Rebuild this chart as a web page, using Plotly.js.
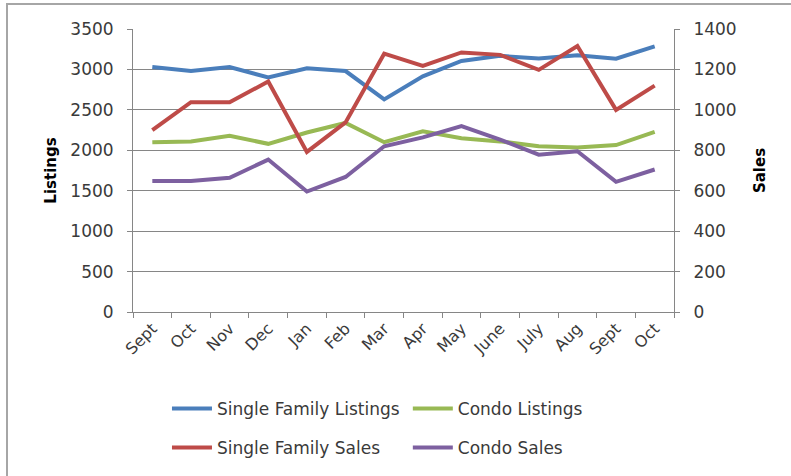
<!DOCTYPE html>
<html>
<head>
<meta charset="utf-8">
<script src="https://cdn.plot.ly/plotly-3.0.1.min.js"></script>
<style>
  html, body { margin: 0; padding: 0; background: #fff; }
  #wrap { position: relative; width: 791px; height: 476px; overflow: hidden; }
  #frame { position: absolute; left: 6px; top: 3px; width: 800px; height: 490px;
           border-top: 2px solid #a6a6a6; border-left: 2px solid #a6a6a6; pointer-events: none; }
  #chart { position: absolute; left: 0; top: 0; width: 791px; height: 476px; }
</style>
</head>
<body>
<div id="wrap">
  <div id="chart"></div>
  <div id="frame"></div>
</div>
<script>
const months = ['Sept','Oct','Nov','Dec','Jan','Feb','Mar','Apr','May','June','July','Aug','Sept','Oct'];
const singleFamilyListings = [3030, 2980, 3030, 2900, 3015, 2980, 2630, 2915, 3105, 3168, 3135, 3176, 3133, 3285];
const condoListings        = [2100, 2110, 2180, 2080, 2220, 2338, 2100, 2235, 2150, 2110, 2050, 2035, 2065, 2227];
const singleFamilySales    = [900, 1038, 1038, 1140, 792, 938, 1278, 1218, 1284, 1272, 1198, 1316, 1000, 1120];
const condoSales           = [648, 648, 664, 754, 596, 668, 820, 864, 920, 853, 778, 795, 644, 705];

const xIdx = months.map((_, i) => i);
const FONT = 'DejaVu Sans, sans-serif';
const TXT = '#3a3a3a';

const traces = [
  {x: xIdx, y: singleFamilyListings, name: 'Single Family Listings', type: 'scatter', mode: 'lines',
   line: {color: '#4a7ebb', width: 4}, yaxis: 'y', legend: 'legend'},
  {x: xIdx, y: condoListings, name: 'Condo Listings', type: 'scatter', mode: 'lines',
   line: {color: '#98b954', width: 4}, yaxis: 'y', legend: 'legend2'},
  {x: xIdx, y: singleFamilySales, name: 'Single Family Sales', type: 'scatter', mode: 'lines',
   line: {color: '#be4b48', width: 4}, yaxis: 'y2', legend: 'legend3'},
  {x: xIdx, y: condoSales, name: 'Condo Sales', type: 'scatter', mode: 'lines',
   line: {color: '#7d60a0', width: 4}, yaxis: 'y2', legend: 'legend4'}
];

function leg(x, y) {
  return {
    orientation: 'h', xanchor: 'left', yanchor: 'middle', x: x, y: y, itemwidth: 40,
    font: {family: FONT, size: 17, color: TXT}, bgcolor: 'rgba(0,0,0,0)'
  };
}

const layout = {
  width: 791, height: 476,
  margin: {l: 133, r: 117, t: 29, b: 163},
  paper_bgcolor: '#ffffff', plot_bgcolor: '#ffffff',
  font: {family: FONT, size: 16, color: TXT},
  showlegend: true,
  xaxis: {
    type: 'linear', range: [-0.5, 13.5], tickvals: xIdx, ticktext: months, tickangle: -45,
    ticks: '', showgrid: false, zeroline: false, showline: true, linecolor: '#868686', linewidth: 1,
    minor: {tick0: -0.5, dtick: 1, ticks: 'outside', ticklen: 5, tickcolor: '#868686', showgrid: false},
    tickfont: {family: FONT, size: 16, color: TXT}, fixedrange: true
  },
  yaxis: {
    range: [0, 3500], dtick: 500, tick0: 0, showgrid: true, gridcolor: '#868686', gridwidth: 1,
    zeroline: false, showline: true, linecolor: '#868686', linewidth: 1,
    ticks: 'outside', ticklen: 5, tickcolor: '#868686', ticklabelstandoff: 10,
    tickfont: {family: FONT, size: 17, color: TXT},
    title: {text: 'Listings', font: {family: FONT, size: 15, color: '#000000', weight: 'bold'}, standoff: 10}
  },
  yaxis2: {
    range: [0, 1400], dtick: 200, tick0: 0, overlaying: 'y', side: 'right', showgrid: false,
    zeroline: false, showline: true, linecolor: '#868686', linewidth: 1,
    ticks: 'outside', ticklen: 5, tickcolor: '#868686', ticklabelstandoff: 10,
    tickfont: {family: FONT, size: 17, color: TXT},
    title: {text: 'Sales', font: {family: FONT, size: 15, color: '#000000', weight: 'bold'}, standoff: 18}
  },
  legend: leg(0.0628, -0.338),
  legend2: leg(0.508, -0.338),
  legend3: leg(0.0628, -0.475),
  legend4: leg(0.508, -0.475)
};

Plotly.newPlot('chart', traces, layout, {displayModeBar: false, staticPlot: true});
</script>
</body>
</html>
